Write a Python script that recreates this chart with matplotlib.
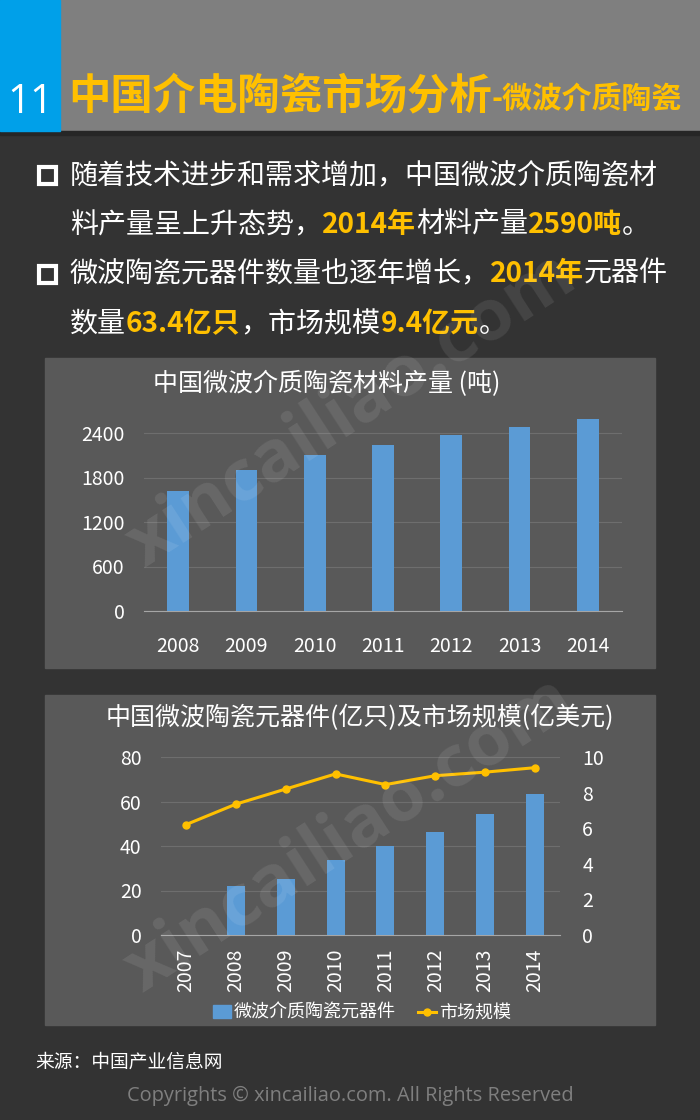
import matplotlib
matplotlib.use("Agg")
import matplotlib.pyplot as plt
from matplotlib.patches import Rectangle
from matplotlib.lines import Line2D
import numpy as np

plt.rcParams['font.family'] = ['Noto Sans CJK SC', 'DejaVu Sans']

# ── Datos ────────────────────────────────────────────────────────────────
years_mat = ["2008", "2009", "2010", "2011", "2012", "2013", "2014"]
material_t = [1620, 1900, 2100, 2235, 2370, 2480, 2590]

years_dev = ["2007", "2008", "2009", "2010", "2011", "2012", "2013", "2014"]
devices = [0, 22.1, 25.1, 33.6, 40.0, 46.4, 54.2, 63.4]
market = [6.2, 7.35, 8.2, 9.05, 8.45, 8.95, 9.15, 9.4]

mat_ticks = [0, 600, 1200, 1800, 2400]
dev_ticks = [0, 20, 40, 60, 80]
mkt_ticks = [0, 2, 4, 6, 8, 10]

W, H = 700, 1120
BG = "#333333"
PANEL = "#595959"
BLUE = "#5b9bd5"
GOLD = "#ffc000"


def box(x0, y0, x1, y1):
    # píxeles (origen arriba-izquierda) -> fracción de figura
    return [x0 / W, 1 - y1 / H, (x1 - x0) / W, (y1 - y0) / H]


def fy(y):
    return 1 - y / H


fig = plt.figure(figsize=(7, 11.2), dpi=100, facecolor=BG)

# ── Cabecera ─────────────────────────────────────────────────────────────
fig.add_artist(Rectangle((0, fy(131)), 1, 131 / H, transform=fig.transFigure,
                         color="#7f7f7f", zorder=0))
fig.add_artist(Rectangle((0, fy(135)), 1, 4 / H, transform=fig.transFigure,
                         color="#262626", zorder=0))
fig.add_artist(Rectangle((0, fy(131)), 60 / W, 131 / H, transform=fig.transFigure,
                         color="#00a0e9", zorder=1))
fig.text(30 / W, fy(103), "11", color="white", fontsize=29,
         ha="center", va="center", family=["Open Sans", "DejaVu Sans"])

renderer = fig.canvas.get_renderer()


def write_run(x, y, parts, size):
    # escribe segmentos seguidos con distintos colores/pesos
    for part in parts:
        txt, color, bold = part[:3]
        sz = part[3] if len(part) > 3 else size
        dy = part[4] if len(part) > 4 else 0
        t = fig.text(x / W, fy(y + dy), txt, color=color, fontsize=sz,
                     fontweight="bold" if bold else "normal",
                     ha="left", va="center")
        bb = t.get_window_extent(renderer=renderer)
        x += bb.width
    return x


write_run(68, 96, [("中国介电陶瓷市场分析", GOLD, True, 30.5),
                   ("-微波介质陶瓷", GOLD, True, 21.5, 4)], 30)

# ── Viñetas ──────────────────────────────────────────────────────────────
for yb in (175, 274):
    fig.add_artist(Rectangle((39 / W, fy(yb + 9)), 17 / W, 17 / H,
                             transform=fig.transFigure, fill=False,
                             edgecolor="white", linewidth=3))

SZ = 20.2
write_run(70, 175, [("随着技术进步和需求增加，中国微波介质陶瓷材", "white", False)], SZ)
write_run(70, 225, [("料产量呈上升态势，", "white", False), ("2014年", GOLD, True),
                    ("材料产量", "white", False), ("2590吨", GOLD, True),
                    ("。", "white", False)], SZ)
write_run(70, 274, [("微波陶瓷元器件数量也逐年增长，", "white", False), ("2014年", GOLD, True),
                    ("元器件", "white", False)], SZ)
write_run(70, 324, [("数量", "white", False), ("63.4亿只", GOLD, True),
                    ("，市场规模", "white", False), ("9.4亿元", GOLD, True),
                    ("。", "white", False)], SZ)

# ── Gráfico 1: producción de material ────────────────────────────────────
fig.add_artist(Rectangle((45 / W, fy(668)), 610 / W, 310 / H,
                         transform=fig.transFigure, color=PANEL, zorder=0))
fig.text(327 / W, fy(384), "中国微波介质陶瓷材料产量 (吨)", color="white",
         fontsize=18, ha="center", va="center")

top1 = 611 - 2700 * (178 / 2400)
ax1 = fig.add_axes(box(144, top1, 622, 611))
ax1.set_facecolor("none")
x1 = np.arange(len(years_mat))
ax1.bar(x1, material_t, width=0.32, color=BLUE, zorder=3)
ax1.set_xlim(-0.5, len(years_mat) - 0.5)
ax1.set_ylim(0, 2700)
ax1.set_yticks(mat_ticks)
ax1.set_xticks(x1)
ax1.set_xticklabels(years_mat)
ax1.grid(axis="y", color="#6e6e6e", linewidth=0.8, zorder=0)
for s in ("top", "right", "left"):
    ax1.spines[s].set_visible(False)
ax1.spines["bottom"].set_color("#a6a6a6")
ax1.tick_params(length=0, colors="white", labelsize=14)
ax1.tick_params(axis="x", pad=18)
ax1.tick_params(axis="y", pad=14)

# ── Gráfico 2: componentes y mercado ─────────────────────────────────────
fig.add_artist(Rectangle((45 / W, fy(1025)), 610 / W, 330 / H,
                         transform=fig.transFigure, color=PANEL, zorder=0))
fig.text(360 / W, fy(718), "中国微波陶瓷元器件(亿只)及市场规模(亿美元)", color="white",
         fontsize=18, ha="center", va="center")

ax2 = fig.add_axes(box(161, 757, 560, 935))
ax2.set_facecolor("none")
x2 = np.arange(len(years_dev))
ax2.bar(x2, devices, width=0.36, color=BLUE, zorder=3)
ax2.set_xlim(-0.5, len(years_dev) - 0.5)
ax2.set_ylim(0, 80)
ax2.set_yticks(dev_ticks)
ax2.set_xticks(x2)
ax2.set_xticklabels(years_dev, rotation=90)
ax2.grid(axis="y", color="#6e6e6e", linewidth=0.8, zorder=0)
for s in ("top", "right", "left"):
    ax2.spines[s].set_visible(False)
ax2.spines["bottom"].set_color("#a6a6a6")
ax2.tick_params(length=0, colors="white", labelsize=14)
ax2.tick_params(axis="x", pad=10)
ax2.tick_params(axis="y", pad=14)

ax3 = ax2.twinx()
ax3.plot(x2, market, color=GOLD, linewidth=2.2, marker="o", markersize=5, zorder=4)
ax3.set_ylim(0, 10)
ax3.set_yticks(mkt_ticks)
for s in ax3.spines.values():
    s.set_visible(False)
ax3.tick_params(length=0, colors="white", labelsize=14, pad=16)

handles = [Rectangle((0, 0), 1, 1, color=BLUE),
           Line2D([], [], color=GOLD, linewidth=2.2, marker="o", markersize=5)]
fig.legend(handles, ["微波介质陶瓷元器件", "市场规模"], loc="center",
           bbox_to_anchor=(362 / W, fy(1013)), ncol=2, frameon=False,
           fontsize=13, labelcolor="white", handlelength=1.0,
           handletextpad=0.2, columnspacing=1.2)

# ── Marca de agua ────────────────────────────────────────────────────────
for cx, cy in ((352, 410), (350, 835)):
    fig.text(cx / W, fy(cy), "xincailiao.com", color="white", alpha=0.09,
             fontsize=52, fontweight="bold", rotation=33,
             ha="center", va="center", rotation_mode="anchor",
             family=["Open Sans", "DejaVu Sans"], zorder=10)

# ── Pie ──────────────────────────────────────────────────────────────────
fig.text(35 / W, fy(1062), "来源：中国产业信息网", color="white", fontsize=13.5,
         ha="left", va="center")
fig.text(350 / W, fy(1096), "Copyrights © xincailiao.com. All Rights Reserved",
         color="#7f7f7f", fontsize=14.4, ha="center", va="center",
         family=["Open Sans", "DejaVu Sans"])

plt.savefig("out.png", dpi=100, facecolor=BG)
plt.close()
